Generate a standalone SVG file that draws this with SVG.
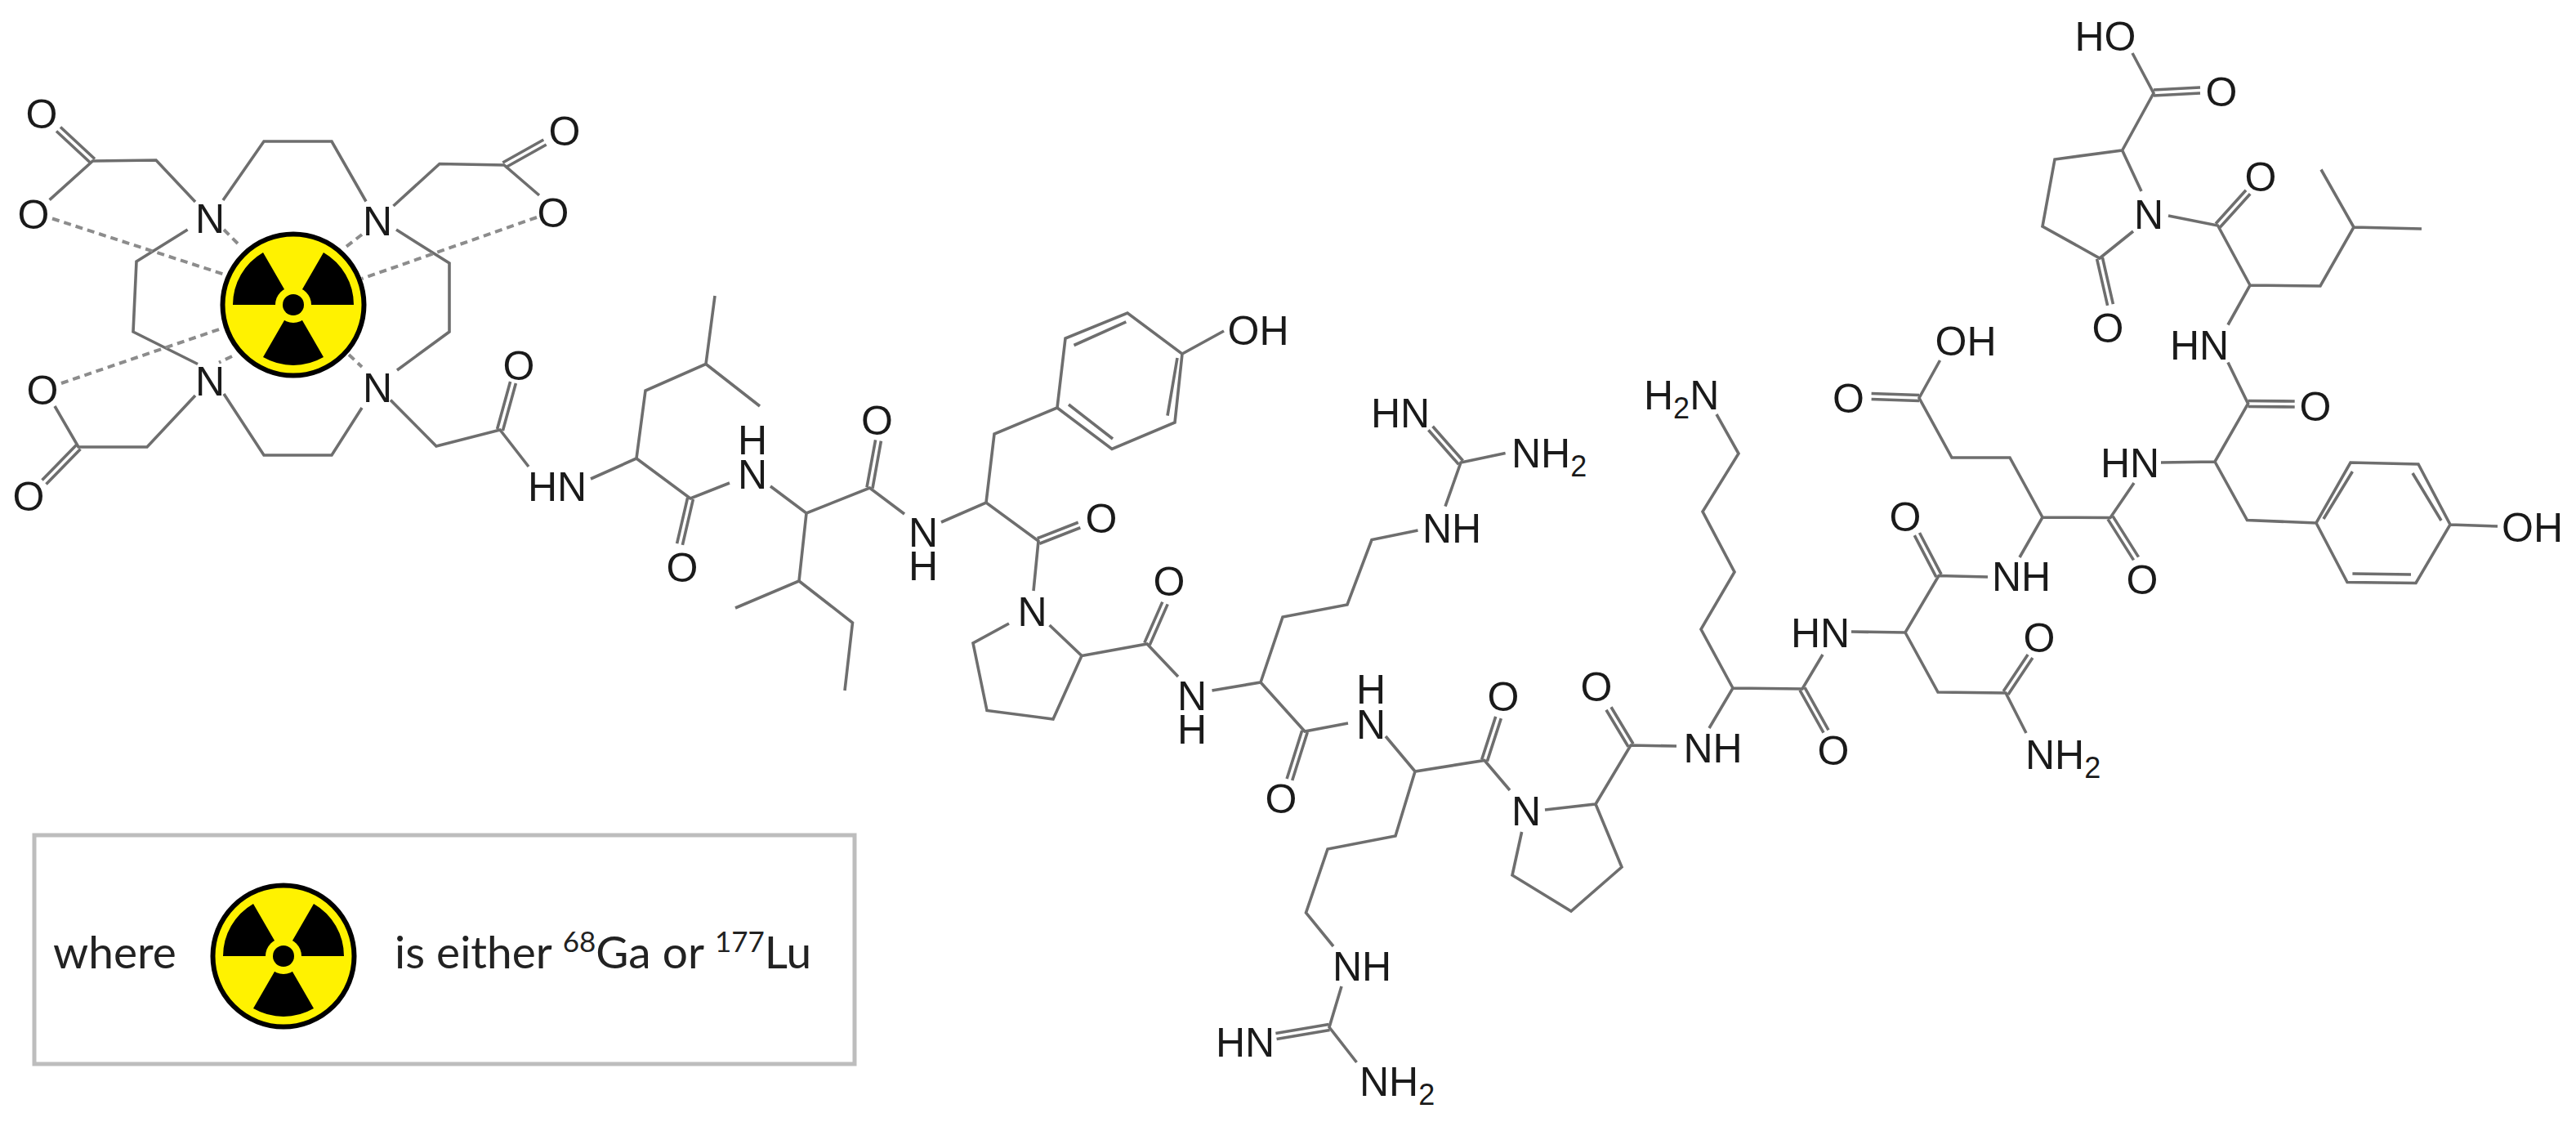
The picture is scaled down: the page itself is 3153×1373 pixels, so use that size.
<svg xmlns="http://www.w3.org/2000/svg" xmlns:xlink="http://www.w3.org/1999/xlink" width="3153" height="1373" viewBox="0 0 3153 1373">
<style>
.b{fill:none;stroke:#6e6e6e;stroke-width:3.6;stroke-linejoin:miter;stroke-linecap:butt}
.d{fill:none;stroke:#8c8c8c;stroke-width:4;stroke-dasharray:9 6}
.a{font-family:"Liberation Sans",Arial,sans-serif;font-size:50px;fill:#1a1a1a;text-anchor:middle}
.s{text-anchor:start}
.sub{font-size:36px}
.l{font-family:Lato,"Open Sans",sans-serif;font-size:55px;fill:#222}
.sup{font-size:35px}
</style>
<defs>
<g id="rad">
<circle r="86.5" fill="#fff200" stroke="#000" stroke-width="6"/>
<path d="M0 0L-74 0A74 74 0 0 1-37 -64ZM0 0L37 -64A74 74 0 0 1 74 0ZM0 0L37 64A74 74 0 0 1-37 64Z" fill="#000"/>
<circle r="22" fill="#fff200"/>
<circle r="13" fill="#000"/>
</g>
</defs>
<rect width="3153" height="1373" fill="#fff"/>
<g id="connectors">
<path class="b" d="M60.6 244.6L113.5 197L191 196L239 247M273 245L323 173L406 173L448 246.5M481.5 252L538 200.5L617 202L660 239M229.6 281L167 320L163 406L242 445.5M485 281L550 322L550 406L486 453M274 482L323 557L406 557L443 499M239 484L180 547L96 547L67 497M478 489.5L534 546L612 526L647 571"/>
<path class="b" d="M723 586L779 561L790 478L864 445.5L875 362M864 445.5L930 497M779 561L845 610L893 591M943 595L987 628L1064.5 597L1107 629M1152 639L1207 615L1271 662L1265 723M987 628L978 711L900 744M978 711L1043.5 762L1034 845M1207 615L1217 531L1294 499L1304 414L1380 383L1447 433L1438 517L1361 549.5L1294 499M1447 433L1498 405M1235 763L1191 787L1208 869.5L1289 880L1324 802.5L1284.6 765M1324 802.5L1404 788L1442 828M1483.5 845L1543 835L1597 895L1650 885M1543 835L1570 755L1649 740L1679 660.5L1735.5 649M1769 619.6L1788 566L1842.6 554.5"/>
<path class="b" d="M1696 901L1732 944L1817 930.5L1848 967M1891 991L1953 984L1985 1061L1923 1115L1851 1071L1862.6 1018M1953 984L1996 912L2052 913M1732 944L1708 1023L1625 1039L1598.5 1117L1632 1158M1642 1207L1627 1257L1660.5 1300M2092 891L2121 842L2206 843L2231 801M2121 842L2082 770L2123 700L2084 626L2128 555L2101 507M2266 773L2332 774L2373 704.5L2433 706M2332 774L2372 847L2455 848L2480 897M2472 682L2500 633L2583 633.5L2612 591M2500 633L2460 560L2389 560L2349 487L2374.5 441"/>
<path class="b" d="M2645 566L2711 565L2751.6 494L2727 443.5M2711 565L2750.5 636.5L2835 640L2877 566L2960 568L2999 642L2957 713.5L2873 712.5L2835 640M2999 642L3057 644M2727 397.5L2754 349L2840 350L2881 278L2841 207.5M2881 278L2964 280M2754 349L2714.6 276L2654 264M2621 234L2597.6 184L2515 195L2500 277L2570 316L2611 283M2597.6 184L2636 114L2610 65"/>
<path class="b" d="M116 194.5L74 155.5M111 199.5L69 160.5M618.7 205L668.7 177M615.3 199L665.3 171M98.5 549.5L56.5 592.5M93.5 544.5L51.5 587.5M615.4 527L631.4 469M608.6 525L624.6 467M848.4 610.8L835.4 666.8M841.6 609.2L828.6 665.2M1068 597.6L1078.4 539.6M1061 596.4L1071.6 538.4M1272.3 665.3L1322.3 645.8M1269.7 658.7L1319.7 639.2M1407.2 789.4L1429.2 739.4M1400.8 786.6L1422.8 736.6M1790.6 563.7L1753.6 521.7M1785.4 568.3L1748.4 526.3M1600.3 896L1581.7 955M1593.7 894L1575.1 953M1820.3 931.6L1837.3 879.1M1813.7 929.4L1830.7 876.9M1999 910.2L1972 865.2M1993 913.8L1966 868.8M1627.6 1260.5L1562.6 1271.5M1626.4 1253.5L1561.4 1264.5M2209 841.3L2238 893.3M2203 844.7L2232 896.7M2457.9 849.9L2487.9 804.9M2452.1 846.1L2482.1 801.1M2376.1 702.9L2349.5 652M2369.9 706.1L2343.3 655.2M2349 490.5L2290.6 488.5M2349 483.5L2290.6 481.5M2586 631.6L2617.5 681.6M2580 635.4L2611.5 685.4M2751.6 490.5L2808.7 491M2751.6 497.5L2808.7 498M2717.2 278.3L2754.2 237.3M2712 273.7L2749 232.7M2573.4 315.2L2586.4 372.2M2566.6 316.8L2579.6 373.8M2636 117L2693 114M2636 110L2693 107M1314.5 422.5L1378.3 393.8M1441 438L1429 508.6M1308 495L1362 537M2844 635L2879.4 577M2953 579L2988 637M2879.4 702L2951 703"/>
<path class="d" d="M64 267.5L274 335.6M657 266L443 341M75 469L274 401M274 281L295 302M443 287L421 304M284 436L268 443.6M427 434L443 449"/>
</g>
<g id="metal"><use href="#rad" xlink:href="#rad" x="359" y="373"/></g>
<g id="labels" transform="translate(0,1)">
<text class="a" x="51" y="156">O</text>
<text class="a" x="41" y="279">O</text>
<text class="a" x="691" y="177">O</text>
<text class="a" x="677" y="277">O</text>
<text class="a" x="52" y="494">O</text>
<text class="a" x="35" y="624">O</text>
<text class="a" x="635" y="464">O</text>
<text class="a" x="257" y="284">N</text>
<text class="a" x="462" y="287">N</text>
<text class="a" x="257" y="483">N</text>
<text class="a" x="462" y="491">N</text>
<text class="a" x="682" y="612">HN</text>
<text class="a" x="921" y="555">H<tspan x="921" dy="42">N</tspan></text>
<text class="a" x="835" y="711">O</text>
<text class="a" x="1073.5" y="531">O</text>
<text class="a" x="1130" y="668">N<tspan x="1130" dy="41">H</tspan></text>
<text class="a" x="1348" y="651">O</text>
<text class="a" x="1540" y="421">OH</text>
<text class="a" x="1263.5" y="765">N</text>
<text class="a" x="1431" y="728">O</text>
<text class="a" x="1459" y="868">N<tspan x="1459" dy="41">H</tspan></text>
<text class="a" x="1714" y="522">HN</text>
<text class="a s" x="1850" y="571">NH<tspan class="sub" dy="11">2</tspan></text>
<text class="a" x="1777" y="663">NH</text>
<text class="a" x="1678" y="860">H<tspan x="1678" dy="43">N</tspan></text>
<text class="a" x="1568" y="994">O</text>
<text class="a" x="1840" y="869">O</text>
<text class="a" x="1868" y="1009">N</text>
<text class="a" x="1954" y="857">O</text>
<text class="a" x="2096.5" y="932">NH</text>
<text class="a" x="1667" y="1199">NH</text>
<text class="a" x="1524" y="1292">HN</text>
<text class="a s" x="1664" y="1340">NH<tspan class="sub" dy="11">2</tspan></text>
<text class="a s" x="2012" y="500">H<tspan class="sub" dy="11">2</tspan><tspan dy="-11">N</tspan></text>
<text class="a" x="2406" y="434">OH</text>
<text class="a" x="2262.5" y="504">O</text>
<text class="a" x="2332" y="649">O</text>
<text class="a" x="2474" y="722">NH</text>
<text class="a" x="2228" y="791">HN</text>
<text class="a" x="2244" y="935">O</text>
<text class="a" x="2496" y="797">O</text>
<text class="a s" x="2479" y="940">NH<tspan class="sub" dy="11">2</tspan></text>
<text class="a" x="2622" y="726">O</text>
<text class="a" x="2607" y="583">HN</text>
<text class="a s" x="3062" y="662">OH</text>
<text class="a" x="2692" y="439">HN</text>
<text class="a" x="2834" y="514">O</text>
<text class="a" x="2767" y="233">O</text>
<text class="a" x="2630" y="279">N</text>
<text class="a" x="2580" y="418">O</text>
<text class="a" x="2719" y="129">O</text>
<text class="a" x="2577" y="61">HO</text>
</g>
<g id="legend">
<rect x="42" y="1022" width="1004" height="280" fill="#fff" stroke="#bdbdbd" stroke-width="5"/>
<use href="#rad" xlink:href="#rad" x="347" y="1170"/>
<text class="l" x="65" y="1185">where</text>
<text class="l" x="483" y="1185">is either <tspan class="sup" dy="-20">68</tspan><tspan dy="20">Ga or </tspan><tspan class="sup" dy="-20">177</tspan><tspan dy="20">Lu</tspan></text>
</g>
</svg>
